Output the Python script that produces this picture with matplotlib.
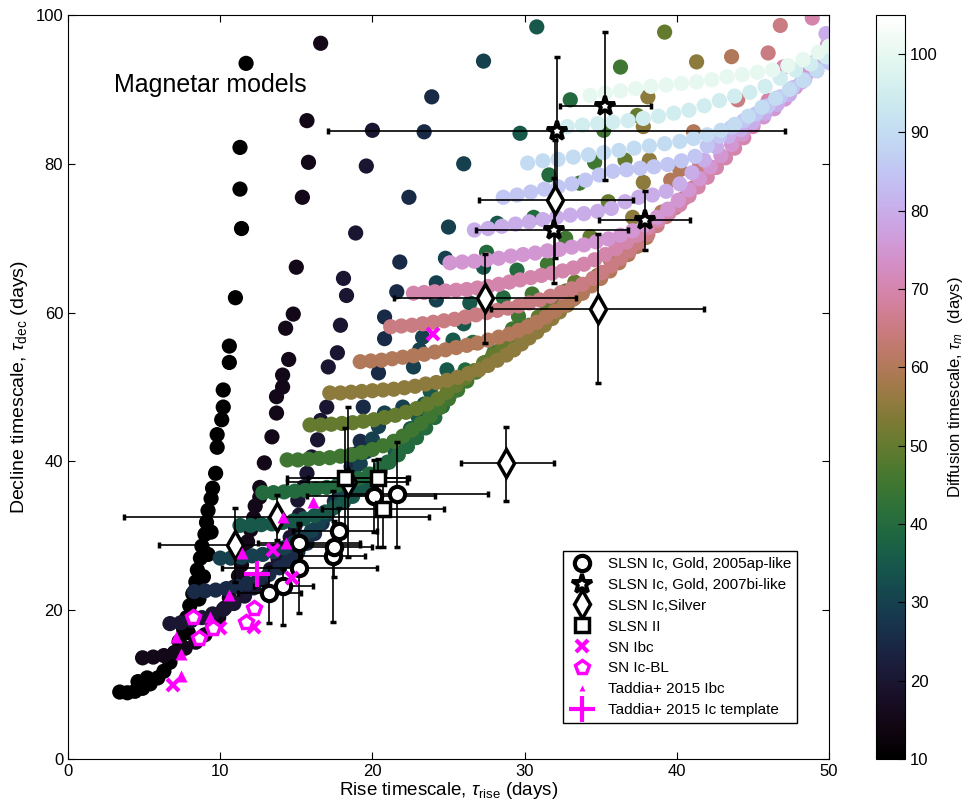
"""
Rise vs decline timescales: magnetar model grid coloured by diffusion time,
with SLSN and SN Ibc samples overplotted.
"""

import numpy as np
import matplotlib
matplotlib.use('Agg')
import matplotlib.pyplot as plt
from matplotlib.colors import Normalize

plt.rcParams['font.family'] = ['Liberation Sans', 'DejaVu Sans']
plt.rcParams['mathtext.fontset'] = 'custom'
plt.rcParams['mathtext.rm'] = 'Liberation Sans'
plt.rcParams['mathtext.it'] = 'Liberation Sans:italic'

# --- magnetar model tracks (one per diffusion timescale tau_m) ---
tm10_x = [3.4, 3.9, 4.4, 4.9, 5.4, 5.9, 6.3, 6.7, 7.0, 7.3, 7.6, 7.8, 8.0, 8.2, 8.4, 8.5, 8.7, 8.8,
          9.0, 9.1, 9.2, 9.4, 9.5, 9.7, 9.8, 9.8, 10.1, 10.2, 10.2, 10.6, 10.6, 11.0, 11.4, 11.3,
          11.3, 11.7, 4.6, 5.2, 7.9, 8.3, 8.6, 8.9, 9.2, 9.4]
tm10_y = [9.0, 8.9, 9.1, 9.5, 10.1, 10.9, 11.8, 13.0, 14.3, 15.8, 17.4, 19.0, 20.6, 22.2, 23.8, 25.4,
          27.0, 28.6, 30.2, 31.8, 33.4, 35.0, 36.4, 38.4, 41.9, 43.6, 45.6, 47.3, 49.6, 53.3, 55.5,
          62.0, 71.3, 76.6, 82.2, 93.5, 10.4, 10.9, 17.0, 19.0, 21.5, 24.5, 27.5, 30.5]

tm15_x = [4.9, 5.6, 6.3, 7.0, 7.7, 8.4, 9.0, 9.5, 9.9, 10.3, 10.6, 10.9, 11.2, 11.4, 11.6, 11.8, 12.0,
          12.2, 12.3, 12.6, 12.6, 12.9, 13.4, 13.7, 13.7, 14.1, 14.1, 14.5, 14.3, 14.8, 15.0, 15.4,
          15.8, 15.7, 16.6]
tm15_y = [13.6, 13.7, 13.9, 14.3, 14.9, 15.7, 16.7, 17.8, 19.0, 20.3, 21.7, 23.1, 24.6, 26.1, 27.6,
          29.2, 30.8, 32.4, 34.0, 35.2, 36.5, 39.8, 43.3, 46.5, 48.7, 50.0, 51.6, 53.7, 57.9, 59.8,
          66.1, 75.5, 80.2, 85.8, 96.2]

tm20_x = [6.7, 7.4, 8.1, 8.8, 9.5, 10.2, 10.9, 11.6, 12.2, 12.8, 13.3, 13.8, 14.2, 14.6, 14.9, 15.2,
          15.1, 15.5, 15.7, 16.0, 16.4, 16.6, 17.0, 17.1, 17.7, 17.9, 18.3, 18.1, 18.9, 19.6, 20.0]
tm20_y = [18.2, 18.3, 18.6, 19.0, 19.5, 20.1, 20.9, 21.9, 23.0, 24.2, 25.5, 26.9, 28.3, 29.8, 31.3,
          32.8, 34.8, 36.6, 38.4, 40.6, 42.9, 45.5, 47.3, 52.7, 54.6, 58.3, 62.3, 64.6, 70.7, 79.7,
          84.5]

tm25_x = [8.3, 9.0, 9.7, 10.4, 11.1, 11.8, 12.5, 13.2, 13.9, 14.5, 15.1, 15.7, 16.2, 16.7, 17.1,
          17.5, 17.9, 18.3, 18.6, 18.9, 19.2, 19.4, 20.4, 20.8, 20.8, 21.6, 21.8, 22.4, 23.4, 23.9]
tm25_y = [22.5, 22.6, 22.7, 22.9, 23.2, 23.6, 24.1, 24.8, 25.7, 26.7, 27.8, 29.0, 30.3, 31.7, 33.1,
          34.6, 36.1, 37.7, 39.3, 41.0, 42.7, 47.3, 51.9, 56.5, 59.4, 62.8, 66.8, 75.5, 84.3, 89.0]

tm30_x = [10.0, 10.7, 11.4, 12.1, 12.8, 13.5, 14.2, 14.8, 15.4, 16.0, 16.5, 17.0, 17.5, 18.0, 18.4,
          18.8, 19.2, 19.6, 20.0, 20.4, 20.8, 22.0, 22.7, 23.1, 23.3, 24.2, 24.2, 24.8, 25.0, 26.0,
          27.3]
tm30_y = [27.0, 27.0, 27.1, 27.3, 27.5, 27.9, 28.4, 29.0, 29.8, 30.7, 31.7, 32.8, 34.0, 35.3, 36.7,
          38.2, 39.7, 41.3, 43.0, 44.7, 46.5, 47.3, 52.7, 55.0, 56.7, 61.7, 64.0, 67.3, 71.5, 80.0,
          93.8]

tm35_x = [11.3, 12.0, 12.7, 13.4, 14.1, 14.8, 15.5, 16.2, 16.9, 17.5, 18.1, 18.7, 19.3, 19.9, 20.5,
          21.0, 21.5, 22.0, 22.5, 23.0, 23.4, 23.8, 24.9, 25.3, 26.0, 26.4, 27.3, 28.2, 29.7, 30.8]
tm35_y = [31.4, 31.4, 31.5, 31.6, 31.8, 32.0, 32.3, 32.7, 33.2, 33.8, 34.5, 35.3, 36.3, 37.4, 38.6,
          39.9, 41.3, 42.8, 44.4, 46.0, 47.7, 49.4, 52.3, 56.3, 58.5, 61.3, 66.1, 72.0, 84.1, 98.4]

tm40_x = [12.8, 13.5, 14.2, 14.9, 15.6, 16.3, 17.0, 17.7, 18.4, 19.1, 19.8, 20.5, 21.1, 21.7, 22.3,
          22.9, 23.5, 24.1, 24.6, 25.1, 25.6, 26.1, 26.6, 27.5, 28.6, 29.5, 30.6, 31.6, 33.0]
tm40_y = [35.8, 35.8, 35.9, 36.0, 36.1, 36.3, 36.5, 36.8, 37.2, 37.7, 38.3, 39.0, 39.9, 40.9, 42.0,
          43.2, 44.5, 45.9, 47.4, 49.0, 50.6, 52.3, 56.0, 68.1, 62.0, 65.7, 72.8, 78.5, 88.6]

tm45_x = [14.4, 15.1, 15.8, 16.5, 17.2, 17.9, 18.6, 19.3, 20.0, 20.7, 21.4, 22.0, 22.6, 23.2, 23.8,
          24.4, 25.0, 25.6, 26.2, 26.8, 27.4, 28.0, 28.6, 29.2, 29.6, 30.5, 31.5, 32.7, 33.6, 34.6,
          35.2, 36.3]
tm45_y = [40.2, 40.2, 40.3, 40.4, 40.5, 40.7, 40.9, 41.2, 41.6, 42.1, 42.7, 43.4, 44.2, 45.1, 46.1,
          47.2, 48.4, 49.6, 50.8, 52.0, 53.3, 54.7, 56.2, 57.8, 59.5, 62.5, 66.5, 70.0, 77.4, 80.2,
          84.5, 93.0]

tm50_x = [15.9, 16.6, 17.3, 18.0, 18.7, 19.4, 20.1, 20.8, 21.5, 22.2, 22.9, 23.6, 24.3, 24.9, 25.5,
          26.1, 26.7, 27.3, 27.9, 28.5, 29.1, 29.7, 30.3, 30.9, 31.5, 32.1, 32.7, 33.3, 34.3, 35.5,
          36.6, 37.4, 39.2]
tm50_y = [44.9, 44.9, 45.0, 45.1, 45.2, 45.4, 45.6, 45.9, 46.2, 46.6, 47.1, 47.7, 48.4, 49.3, 50.2,
          51.2, 52.2, 53.2, 54.2, 55.2, 56.2, 57.2, 58.3, 59.4, 60.5, 61.7, 62.9, 64.1, 70.2, 74.9,
          80.5, 86.5, 97.7]

tm55_x = [17.2, 17.9, 18.6, 19.3, 20.0, 20.7, 21.4, 22.1, 22.8, 23.5, 24.2, 24.9, 25.6, 26.3, 27.0,
          27.6, 28.2, 28.8, 29.3, 29.8, 30.3, 30.8, 31.3, 31.8, 32.3, 32.8, 33.3, 33.8, 34.3, 34.8,
          35.6, 36.4, 37.1, 37.8, 38.2, 37.8, 38.1, 41.3]
tm55_y = [49.2, 49.2, 49.3, 49.4, 49.5, 49.6, 49.7, 49.9, 50.1, 50.4, 50.6, 50.9, 51.3, 51.8, 52.3,
          52.9, 53.6, 54.3, 55.0, 55.8, 56.6, 57.4, 58.3, 59.2, 60.1, 61.0, 62.0, 63.0, 64.0, 65.0,
          67.2, 69.6, 72.8, 77.5, 80.5, 85.0, 89.0, 93.7]

tm60_x = [19.2, 19.9, 20.6, 21.3, 22.0, 22.7, 23.4, 24.1, 24.8, 25.5, 26.2, 26.9, 27.6, 28.3, 29.0,
          29.6, 30.2, 30.8, 31.4, 32.0, 32.6, 33.2, 33.8, 34.4, 35.0, 35.6, 36.2, 36.8, 37.4, 38.0,
          39.0, 39.6, 40.2, 41.1, 43.6]
tm60_y = [53.4, 53.5, 53.6, 53.8, 54.0, 54.2, 54.4, 54.7, 55.0, 55.3, 55.6, 55.9, 56.3, 56.7, 57.1,
          57.6, 58.1, 58.7, 59.4, 60.2, 61.0, 61.8, 62.6, 63.6, 64.6, 65.6, 66.7, 67.8, 68.9, 70.1,
          73.5, 77.8, 79.2, 84.3, 94.4]

tm65_x = [21.2, 21.9, 22.6, 23.3, 24.0, 24.7, 25.4, 26.1, 26.8, 27.5, 28.2, 28.9, 29.6, 30.3, 31.0,
          31.7, 32.4, 33.1, 33.8, 34.5, 35.1, 35.7, 36.3, 36.9, 37.5, 38.1, 38.7, 39.3, 39.9, 40.5,
          41.1, 41.5, 42.6, 44.0, 46.0, 46.8]
tm65_y = [58.1, 58.2, 58.3, 58.5, 58.7, 58.9, 59.1, 59.4, 59.7, 60.0, 60.3, 60.6, 60.9, 61.3, 61.7,
          62.2, 62.7, 63.2, 63.8, 64.6, 65.4, 66.3, 67.3, 68.3, 69.4, 70.5, 71.7, 72.9, 74.1, 75.4,
          76.8, 79.8, 83.5, 88.6, 94.9, 98.6]

tm70_x = [22.7, 23.4, 24.1, 24.8, 25.5, 26.2, 26.9, 27.6, 28.3, 29.0, 29.7, 30.4, 31.1, 31.8, 32.5,
          33.2, 33.9, 34.6, 35.3, 36.0, 36.7, 37.4, 38.1, 38.8, 39.5, 40.2, 40.8, 41.4, 42.0, 42.6,
          43.2, 43.8, 44.4, 45.0, 46.0, 47.0, 48.9]
tm70_y = [62.6, 62.7, 62.8, 62.9, 63.0, 63.1, 63.3, 63.5, 63.8, 64.1, 64.4, 64.7, 65.0, 65.3, 65.6,
          66.0, 66.5, 67.1, 67.8, 68.6, 69.5, 70.4, 71.4, 72.4, 73.4, 74.5, 75.7, 76.9, 78.2, 79.5,
          80.8, 82.1, 83.5, 85.0, 88.5, 93.0, 99.6]

tm75_x = [25.1, 25.9, 26.7, 27.5, 28.3, 29.1, 29.9, 30.7, 31.5, 32.3, 33.1, 33.9, 34.7, 35.5, 36.3,
          37.1, 37.9, 38.7, 39.4, 40.1, 40.8, 41.5, 42.2, 42.9, 43.6, 44.3, 45.0, 45.7, 46.4, 47.1,
          47.8, 48.5, 49.2, 49.9]
tm75_y = [66.7, 66.8, 66.9, 67.1, 67.3, 67.6, 67.8, 68.0, 68.3, 68.5, 68.8, 69.1, 69.5, 69.9, 70.4,
          71.0, 71.8, 72.8, 73.9, 75.1, 76.5, 78.0, 79.6, 81.1, 82.6, 84.0, 85.3, 86.3, 87.4, 88.7,
          90.3, 92.0, 93.9, 96.0]

tm80_x = [26.7, 27.6, 28.5, 29.4, 30.3, 31.2, 32.1, 33.0, 33.9, 34.8, 35.7, 36.6, 37.5, 38.4, 39.3,
          40.2, 41.0, 41.8, 42.6, 43.4, 44.2, 45.0, 45.8, 46.6, 47.4, 48.2, 49.0, 49.8]
tm80_y = [71.1, 71.3, 71.6, 71.9, 72.2, 72.5, 72.8, 73.1, 73.3, 73.6, 74.0, 74.9, 75.5, 75.8, 76.3,
          77.3, 78.8, 80.5, 82.3, 83.7, 84.6, 85.6, 86.8, 88.0, 89.3, 91.0, 93.5, 97.5]

tm85_x = [28.6, 29.5, 30.4, 31.3, 32.2, 33.1, 34.0, 34.9, 35.8, 36.7, 37.6, 38.5, 39.4, 40.3, 41.2,
          42.0, 42.8, 43.6, 44.4, 45.2, 46.0, 46.8, 47.6, 48.4, 49.2, 50.0]
tm85_y = [75.5, 75.8, 76.2, 76.6, 76.9, 77.3, 77.8, 78.5, 79.0, 79.2, 79.4, 79.6, 79.9, 80.4, 81.0,
          82.4, 83.7, 84.9, 85.8, 86.7, 87.8, 89.0, 90.2, 91.3, 92.5, 93.6]

tm90_x = [30.2, 31.2, 32.2, 33.2, 34.2, 35.2, 36.2, 37.2, 38.2, 39.2, 40.2, 41.1, 42.0, 42.9, 43.8,
          44.7, 45.6, 46.5, 47.4, 48.3, 49.2, 50.1]
tm90_y = [80.1, 80.4, 80.6, 80.9, 81.2, 81.5, 81.8, 82.1, 82.4, 82.7, 83.0, 83.4, 83.9, 84.5, 85.3,
          86.4, 87.6, 88.8, 90.0, 91.2, 92.6, 94.2]

tm95_x = [32.8, 33.8, 34.8, 35.8, 36.8, 37.8, 38.8, 39.8, 40.8, 41.8, 42.8, 43.8, 44.8, 45.8, 46.8,
          47.8, 48.8, 49.8]
tm95_y = [85.0, 85.2, 85.4, 85.6, 85.8, 86.1, 86.4, 86.8, 87.2, 87.8, 88.5, 89.1, 89.6, 90.4, 91.5,
          92.6, 93.4, 94.4]

tm100_x = [34.3, 35.3, 36.3, 37.3, 38.3, 39.3, 40.3, 41.3, 42.3, 43.3, 44.3, 45.3, 46.3, 47.3, 48.3,
           49.3, 50.0]
tm100_y = [89.2, 89.5, 89.8, 90.1, 90.4, 90.6, 90.8, 91.0, 91.3, 91.7, 92.0, 92.3, 92.6, 93.2, 94.0,
           95.0, 95.8]

tracks = [(10, tm10_x, tm10_y), (15, tm15_x, tm15_y), (20, tm20_x, tm20_y), (25, tm25_x, tm25_y),
          (30, tm30_x, tm30_y), (35, tm35_x, tm35_y), (40, tm40_x, tm40_y), (45, tm45_x, tm45_y),
          (50, tm50_x, tm50_y), (55, tm55_x, tm55_y), (60, tm60_x, tm60_y), (65, tm65_x, tm65_y),
          (70, tm70_x, tm70_y), (75, tm75_x, tm75_y), (80, tm80_x, tm80_y), (85, tm85_x, tm85_y),
          (90, tm90_x, tm90_y), (95, tm95_x, tm95_y), (100, tm100_x, tm100_y)]

# --- SLSN Ic, Gold, 2005ap-like ---
ap_x = [13.2, 14.1, 15.2, 15.2, 17.4, 17.5, 17.8, 20.1, 21.6]
ap_y = [22.3, 23.2, 25.7, 29.0, 27.3, 28.5, 30.6, 35.4, 35.6]
ap_xlo = [11.2, 12.2, 10.1, 12.5, 15.3, 15.0, 14.8, 15.7, 18.3]
ap_xhi = [15.3, 16.1, 20.3, 19.2, 19.5, 20.0, 20.3, 24.1, 27.6]
ap_ylo = [18.3, 18.0, 19.6, 26.0, 18.4, 24.5, 28.5, 30.5, 28.5]
ap_yhi = [25.8, 25.6, 31.5, 31.7, 36.0, 32.0, 33.7, 40.2, 42.6]

# --- SLSN Ic, Gold, 2007bi-like ---
bi_x = [35.3, 32.1, 31.9, 37.9]
bi_y = [87.8, 84.4, 71.1, 72.4]
bi_xlo = [32.3, 17.1, 26.8, 34.9]
bi_xhi = [38.3, 47.1, 36.8, 40.9]
bi_ylo = [77.8, 74.4, 64.0, 68.4]
bi_yhi = [97.7, 94.4, 78.1, 76.4]

# --- SLSN Ic, Silver ---
sil_x = [32.0, 27.4, 34.8, 28.8, 18.4, 13.7, 11.0]
sil_y = [75.2, 61.9, 60.5, 39.8, 37.2, 32.5, 28.8]
sil_xlo = [27.0, 21.4, 27.8, 25.8, 14.4, 3.7, 6.0]
sil_xhi = [37.1, 33.4, 41.8, 31.9, 22.3, 23.7, 19.2]
sil_ylo = [67.3, 55.9, 50.5, 34.7, 27.2, 29.5, 23.8]
sil_yhi = [83.2, 67.9, 70.5, 44.6, 47.3, 35.5, 33.7]

# --- SLSN II ---
ii_x = [18.2, 20.4, 20.7]
ii_y = [37.8, 37.8, 33.6]
ii_xlo = [14.4, 15.8, 16.7]
ii_xhi = [22.3, 22.4, 24.7]
ii_ylo = [31.0, 28.5, 28.5]
ii_yhi = [44.5, 40.3, 38.7]

# --- normal SNe ---
ibc_x = [6.9, 10.0, 12.2, 14.7, 13.5, 24.0]
ibc_y = [9.9, 17.6, 17.8, 24.3, 28.1, 57.1]
bl_x = [8.2, 8.6, 9.5, 11.7, 12.2]
bl_y = [19.1, 16.3, 17.6, 18.4, 20.3]
tad_x = [7.1, 7.4, 7.4, 9.3, 10.6, 11.4, 14.3, 16.1, 14.1]
tad_y = [16.4, 14.1, 11.2, 19.1, 22.0, 27.7, 29.0, 34.5, 32.5]
tmpl_x = [12.4]
tmpl_y = [24.9]

W, H = 980, 808
fig = plt.figure(figsize=(W / 100, H / 100), dpi=100)
ax = fig.add_axes([68 / W, 1 - 759 / H, (829 - 68) / W, (759 - 15) / H])
cax = fig.add_axes([876 / W, 1 - 759 / H, 29 / W, (759 - 15) / H])

norm = Normalize(vmin=10, vmax=105)
cmap = plt.get_cmap('cubehelix')

sc = None
for tau, xs, ys in tracks:
    sc = ax.scatter(xs, ys, c=[tau] * len(xs), cmap=cmap, norm=norm, s=120,
                    linewidths=0, zorder=1)


def draw_errs(x, y, xlo, xhi, ylo, yhi):
    x, y = np.array(x), np.array(y)
    xe = [x - np.array(xlo), np.array(xhi) - x]
    ye = [y - np.array(ylo), np.array(yhi) - y]
    ax.errorbar(x, y, xerr=xe, yerr=ye, fmt='none', ecolor='k', elinewidth=1.2,
                capsize=2.5, capthick=2.5, zorder=3)


draw_errs(ap_x, ap_y, ap_xlo, ap_xhi, ap_ylo, ap_yhi)
draw_errs(bi_x, bi_y, bi_xlo, bi_xhi, bi_ylo, bi_yhi)
draw_errs(sil_x, sil_y, sil_xlo, sil_xhi, sil_ylo, sil_yhi)
draw_errs(ii_x, ii_y, ii_xlo, ii_xhi, ii_ylo, ii_yhi)

ax.plot(ap_x, ap_y, 'o', ls='none', ms=11, mfc='white', mec='k', mew=3, zorder=4,
        label='SLSN Ic, Gold, 2005ap-like')
ax.plot(bi_x, bi_y, '*', ls='none', ms=15, mfc='white', mec='k', mew=2.8, zorder=4,
        label='SLSN Ic, Gold, 2007bi-like')
ax.plot(sil_x, sil_y, 'd', ls='none', ms=14, mfc='white', mec='k', mew=2.5, zorder=4,
        label='SLSN Ic,Silver')
ax.plot(ii_x, ii_y, 's', ls='none', ms=10.5, mfc='white', mec='k', mew=2.5, zorder=4,
        label='SLSN II')
ax.plot(ibc_x, ibc_y, 'x', ls='none', ms=9, mec='magenta', mew=3, zorder=5,
        label='SN Ibc')
ax.plot(bl_x, bl_y, 'p', ls='none', ms=10.5, mfc='white', mec='magenta', mew=2.5, zorder=5,
        label='SN Ic-BL')
ax.plot(tad_x, tad_y, '^', ls='none', ms=8, color='magenta', mec='none', zorder=5,
        label='Taddia+ 2015 Ibc')
ax.plot(tmpl_x, tmpl_y, '+', ls='none', ms=19, mec='magenta', mew=3, zorder=5,
        label='Taddia+ 2015 Ic template')

ax.text(3.0, 89.6, 'Magnetar models', fontsize=18)

ax.set_xlim(0, 50)
ax.set_ylim(0, 100)
ax.set_xticks(range(0, 51, 10))
ax.set_yticks(range(0, 101, 20))
ax.tick_params(direction='in', top=True, right=True, length=5, width=0.8, labelsize=12)
ax.set_xlabel(r'Rise timescale, $\tau_{\mathrm{rise}}$ (days)', fontsize=13.5, labelpad=1)
ax.set_ylabel(r'Decline timescale, $\tau_{\mathrm{dec}}$ (days)', fontsize=14, labelpad=4)

leg = ax.legend(loc='lower right', bbox_to_anchor=(0.958, 0.048), borderaxespad=0,
                numpoints=1, fontsize=11, fancybox=False, edgecolor='k', framealpha=1,
                handlelength=1.6, handletextpad=0.9, labelspacing=0.45, borderpad=0.4)
leg.get_frame().set_linewidth(1.0)
leg.legend_handles[6].set_markersize(5)

cb = fig.colorbar(sc, cax=cax, ticks=range(10, 101, 10))
cb.outline.set_linewidth(0.8)
cax.tick_params(direction='in', length=5, width=0.8, labelsize=12)
cb.set_label(r'Diffusion timescale, $\tau_m$  (days)', fontsize=12, labelpad=6)

plt.savefig('out.png', dpi=100)
plt.close()
